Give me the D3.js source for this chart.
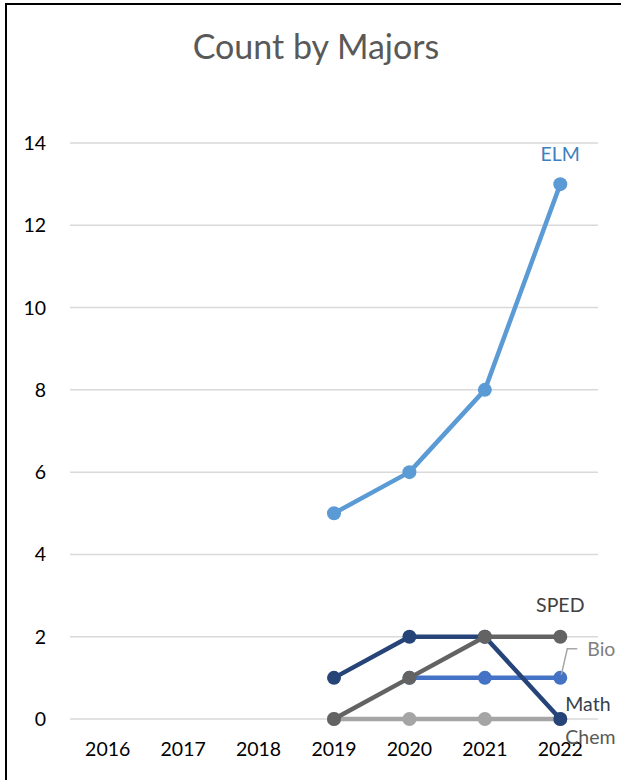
<!DOCTYPE html>
<html>
<head>
<meta charset="utf-8">
<script src="https://cdn.jsdelivr.net/npm/d3@7"></script>
<style>
  html, body { margin: 0; padding: 0; background: #fff; }
  svg { display: block; }
</style>
</head>
<body>
<svg id="mainSvg" width="621" height="780"></svg>
<script>
let years = ["2016", "2017", "2018", "2019", "2020", "2021", "2022"];
let yTicks = [0, 2, 4, 6, 8, 10, 12, 14];

// null where the series has no value
let elm  = [null, null, null, 5, 6, 8, 13];
let chem = [null, null, null, 0, 0, 0, 0];
let bio  = [null, null, null, null, 1, 1, 1];
let math = [null, null, null, 1, 2, 2, 0];
let sped = [null, null, null, 0, 1, 2, 2];

let seriesNames = ["ELM", "Chem", "Bio", "Math", "SPED"];
let seriesValues = [elm, chem, bio, math, sped];

let lineColors = {ELM: "#5B9BD5", Chem: "#A5A5A5", Bio: "#4472C4", Math: "#264478", SPED: "#636363"};
let labelColors = {ELM: "#3F7FBF", Chem: "#595959", Bio: "#7F7F7F", Math: "#333F50", SPED: "#404040"};

function drawChart() {
    let canvas = d3.select("#mainSvg");
    let font = "Lato, 'Open Sans', sans-serif";

    // chart frame (cut off at right and bottom in the reference)
    canvas.append("rect")
        .attr("x", 6).attr("y", 4)
        .attr("width", 700).attr("height", 900)
        .attr("fill", "#fff")
        .attr("stroke", "#000")
        .attr("stroke-width", 2);

    canvas.append("text")
        .attr("x", 316).attr("y", 59)
        .attr("text-anchor", "middle")
        .attr("font-family", font)
        .attr("font-size", 34)
        .attr("fill", "#595959")
        .text("Count by Majors");

    let x = d3.scalePoint().domain(years).range([70, 598]).padding(0.5);
    let y = d3.scaleLinear().domain([0, 14]).range([719, 143]);

    canvas.append("g")
        .selectAll("line")
        .data(yTicks)
        .enter()
            .append("line")
            .attr("x1", 70).attr("x2", 598)
            .attr("y1", d => y(d)).attr("y2", d => y(d))
            .attr("stroke", "#D9D9D9")
            .attr("stroke-width", 1.5);

    canvas.append("g")
        .selectAll("text")
        .data(yTicks)
        .enter()
            .append("text")
            .attr("x", 46)
            .attr("y", d => y(d) + 7)
            .attr("text-anchor", "end")
            .attr("font-family", font)
            .attr("font-size", 19.5)
            .attr("fill", "#000")
            .text(d => d);

    canvas.append("g")
        .selectAll("text")
        .data(years)
        .enter()
            .append("text")
            .attr("x", d => x(d))
            .attr("y", 756)
            .attr("text-anchor", "middle")
            .attr("font-family", font)
            .attr("font-size", 19.5)
            .attr("fill", "#000")
            .text(d => d);

    let line = d3.line()
        .defined(d => d.v !== null)
        .x(d => x(d.year))
        .y(d => y(d.v));

    seriesNames.forEach((name, i) => {
        let pts = seriesValues[i].map((v, j) => ({year: years[j], v: v}));
        let g = canvas.append("g");
        g.append("path")
            .datum(pts)
            .attr("d", line)
            .attr("fill", "none")
            .attr("stroke", lineColors[name])
            .attr("stroke-width", 4.5)
            .attr("stroke-linejoin", "round");
        g.selectAll("circle")
            .data(pts.filter(d => d.v !== null))
            .enter()
                .append("circle")
                .attr("cx", d => x(d.year))
                .attr("cy", d => y(d.v))
                .attr("r", 7)
                .attr("fill", lineColors[name]);
    });

    // data labels at the last point
    let last = years[years.length - 1];
    let labelPos = {
        ELM:  {dx: 0,  dy: -23, anchor: "middle"},
        SPED: {dx: 0,  dy: -25, anchor: "middle"},
        Bio:  {dx: 27, dy: -22, anchor: "start"},
        Math: {dx: 5,  dy: -8,  anchor: "start"},
        Chem: {dx: 5,  dy: 25,  anchor: "start"}
    };

    // leader line for Bio
    let bx = x(last), by = y(bio[bio.length - 1]);
    canvas.append("path")
        .attr("d", `M${bx + 1},${by - 3} L${bx + 7},${by - 29} L${bx + 17},${by - 29}`)
        .attr("fill", "none")
        .attr("stroke", "#A6A6A6")
        .attr("stroke-width", 1.5);

    seriesNames.forEach((name, i) => {
        let vals = seriesValues[i];
        let p = labelPos[name];
        canvas.append("text")
            .attr("x", x(last) + p.dx)
            .attr("y", y(vals[vals.length - 1]) + p.dy)
            .attr("text-anchor", p.anchor)
            .attr("font-family", font)
            .attr("font-size", 19.5)
            .attr("fill", labelColors[name])
            .text(name);
    });
}

drawChart();
</script>
</body>
</html>
